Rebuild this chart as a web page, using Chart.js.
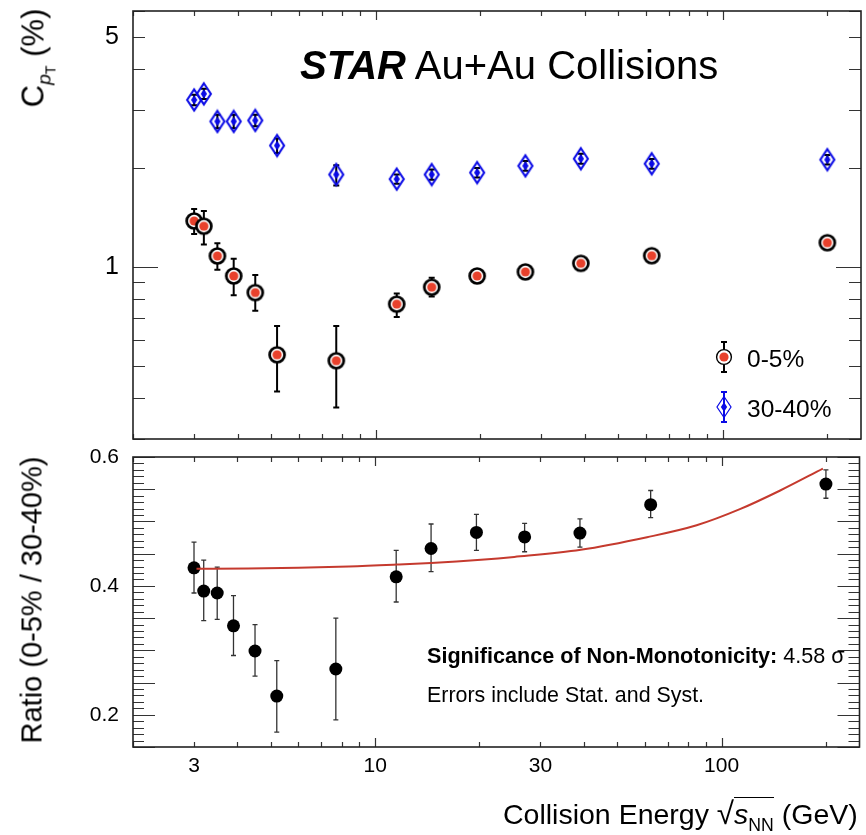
<!DOCTYPE html>
<html>
<head>
<meta charset="utf-8">
<title>STAR Au+Au Collisions</title>
<script src="https://cdn.jsdelivr.net/npm/chart.js@4.4.1/dist/chart.umd.min.js"></script>
<style>
  body { margin: 0; background: #fff; }
  #wrap { position: relative; width: 866px; height: 835px; overflow: hidden;
          font-family: 'Liberation Sans', Arial, Helvetica, sans-serif; color: #000; }
  canvas { position: absolute; left: 0; }
  .txt { position: absolute; white-space: nowrap; }
  .rot { position: absolute; white-space: nowrap; transform: translate(-50%, -50%) rotate(-90deg); }
  sub { line-height: 0; }
</style>
</head>
<body>
<div id="wrap">
  <canvas id="topChart" width="866" height="450" style="top:0"></canvas>
  <canvas id="ratioChart" width="866" height="390" style="top:445px"></canvas>

  <div class="txt" style="left:300px; top:45px; font-size:40px; line-height:40px;"><b><i>STAR</i></b> Au+Au Collisions</div>
  <div class="rot" style="left:34px; top:58px; font-size:31px; line-height:31px;">C<sub style="font-size:0.62em"><i>p</i><sub style="font-size:0.75em">T</sub></sub> (%)</div>
  <div class="rot" style="left:32px; top:600px; font-size:29px; line-height:29px;">Ratio (0-5% / 30-40%)</div>
  <div class="txt" style="left:747px; top:347px; font-size:24.5px; line-height:24px;">0-5%</div>
  <div class="txt" style="left:747px; top:397px; font-size:24.5px; line-height:24px;">30-40%</div>
  <div class="txt" style="left:427px; top:645px; font-size:21.6px; line-height:21px;"><b>Significance of Non-Monotonicity:</b> 4.58 &sigma;</div>
  <div class="txt" style="left:427px; top:685px; font-size:21.4px; line-height:21px;">Errors include Stat. and Syst.</div>
  <div class="txt" style="left:503px; top:800px; font-size:28.5px; line-height:28px;">Collision Energy <span style="font-size:1.1em">&radic;</span><span style="border-top:1.6px solid #000; font-style:italic;">s<sub style="font-style:normal; font-size:0.62em">NN</sub></span> (GeV)</div>
</div>

<script>
// collision energies (GeV)
const energies = [3.0, 3.2, 3.5, 3.9, 4.5, 5.2, 7.7, 11.5, 14.5, 19.6, 27, 39, 62.4, 200];

// C_pT (%) for 0-5% centrality, with lower/upper error ends
const cpt05   = [1.38, 1.33, 1.08, 0.939, 0.836, 0.541, 0.519, 0.771, 0.868, 0.939, 0.966, 1.026, 1.082, 1.185];
const cpt05Lo = [1.26, 1.17, 0.98, 0.82, 0.736, 0.418, 0.374, 0.705, 0.813, 0.91, 0.945, 1.005, 1.06, 1.16];
const cpt05Hi = [1.50, 1.48, 1.18, 1.06, 0.946, 0.662, 0.662, 0.83, 0.928, 0.97, 0.99, 1.05, 1.105, 1.21];

// C_pT (%) for 30-40% centrality
const cpt3040   = [3.22, 3.36, 2.77, 2.77, 2.79, 2.34, 1.91, 1.85, 1.91, 1.936, 2.03, 2.134, 2.06, 2.12];
const cpt3040Lo = [3.10, 3.24, 2.64, 2.64, 2.68, 2.22, 1.77, 1.79, 1.84, 1.87, 1.96, 2.06, 1.99, 2.05];
const cpt3040Hi = [3.34, 3.48, 2.90, 2.90, 2.90, 2.46, 2.04, 1.91, 1.98, 2.00, 2.10, 2.21, 2.13, 2.19];

// ratio 0-5% / 30-40%
const ratio   = [0.428, 0.392, 0.389, 0.338, 0.299, 0.229, 0.271, 0.414, 0.458, 0.483, 0.476, 0.482, 0.526, 0.558];
const ratioLo = [0.389, 0.346, 0.348, 0.292, 0.26, 0.173, 0.192, 0.375, 0.422, 0.455, 0.453, 0.46, 0.506, 0.536];
const ratioHi = [0.468, 0.44, 0.429, 0.385, 0.34, 0.284, 0.35, 0.455, 0.496, 0.511, 0.497, 0.504, 0.548, 0.58];

// baseline curve for the ratio
const baseE     = [3.05, 4.3, 8.4, 11.6, 14.5, 20.2, 25.2, 39.2, 60.9, 84.7, 112.9, 147.6, 196];
const baseRatio = [0.4265, 0.4268, 0.430, 0.433, 0.4355, 0.4406, 0.445, 0.456, 0.4755, 0.494, 0.519, 0.548, 0.582];

// labelled ticks
const xTickLabels = [3, 10, 30, 100];
const topYLabels = [1, 5];
const ratioYLabels = [0.2, 0.4, 0.6];

const FONT = "'Liberation Sans', Arial, Helvetica, sans-serif";
const RED = '#e8412c';
const BLUE = '#0a0ae6';

function toPoints(xs, ys) {
    return xs.map((x, i) => ({ x: x, y: ys[i] }));
}

// log ticks 2..9, 20..90, 200 etc. between min and max
function logTicks(min, max) {
    const out = [];
    for (let d = 0.1; d <= 1000; d *= 10) {
        for (let m = 1; m <= 9; m++) {
            const v = +(m * d).toPrecision(6);
            if (v >= min - 1e-9 && v <= max + 1e-9) out.push(v);
        }
    }
    return out;
}

// open circle with red dot
function makeCircle(ring, lw) {
    const c = document.createElement('canvas');
    c.width = 22; c.height = 22;
    const g = c.getContext('2d');
    g.beginPath(); g.arc(11, 11, ring, 0, Math.PI * 2);
    g.fillStyle = '#fff'; g.fill();
    g.lineWidth = lw; g.strokeStyle = '#000'; g.stroke();
    g.beginPath(); g.arc(11, 11, 4.6, 0, Math.PI * 2);
    g.fillStyle = RED; g.fill();
    return c;
}

// open tall diamond with a small filled one inside
function makeDiamond(lw) {
    const c = document.createElement('canvas');
    c.width = 18; c.height = 26;
    const g = c.getContext('2d');
    const cx = 9, cy = 13;
    g.beginPath();
    g.moveTo(cx, cy - 10.5); g.lineTo(cx + 7, cy); g.lineTo(cx, cy + 10.5); g.lineTo(cx - 7, cy); g.closePath();
    g.lineWidth = lw; g.strokeStyle = BLUE; g.stroke();
    g.beginPath();
    g.moveTo(cx, cy - 4.8); g.lineTo(cx + 3.2, cy); g.lineTo(cx, cy + 4.8); g.lineTo(cx - 3.2, cy); g.closePath();
    g.fillStyle = BLUE; g.fill();
    return c;
}

const circleMark = makeCircle(7.5, 2.7);
const circleLegend = makeCircle(7.4, 1.4);
const diamondMark = makeDiamond(2.1);
const diamondLegend = makeDiamond(1.2);

function errorBar(ctx, x, y1, y2, cap) {
    ctx.beginPath();
    ctx.moveTo(x, y1); ctx.lineTo(x, y2);
    ctx.moveTo(x - cap, y1); ctx.lineTo(x + cap, y1);
    ctx.moveTo(x - cap, y2); ctx.lineTo(x + cap, y2);
    ctx.stroke();
}

// vertical error bars under the markers
const errorBars = {
    id: 'errorBars',
    beforeDatasetsDraw(chart) {
        const { ctx, chartArea: a, scales } = chart;
        ctx.save();
        ctx.beginPath();
        ctx.rect(a.left, a.top, a.right - a.left, a.bottom - a.top);
        ctx.clip();
        chart.data.datasets.forEach(ds => {
            if (!ds.errLo) return;
            ctx.strokeStyle = ds.errColor;
            ctx.lineWidth = ds.errWidth;
            ds.data.forEach((p, i) => {
                const x = scales.x.getPixelForValue(p.x);
                errorBar(ctx, x, scales.y.getPixelForValue(ds.errLo[i]), scales.y.getPixelForValue(ds.errHi[i]), ds.errCap);
            });
        });
        ctx.restore();
    }
};

// frame with inward ticks on all four sides
const frameTicks = {
    id: 'frameTicks',
    afterDraw(chart, args, opts) {
        const { ctx, chartArea: a, scales } = chart;
        ctx.save();
        ctx.strokeStyle = '#333';
        ctx.lineWidth = 1.2;
        ctx.beginPath();
        scales.x.ticks.forEach(t => {
            const px = Math.round(scales.x.getPixelForValue(t.value)) + 0.5;
            const len = (t.value === 10 || t.value === 100) ? 9 : 5;
            ctx.moveTo(px, a.top); ctx.lineTo(px, a.top + len);
            ctx.moveTo(px, a.bottom); ctx.lineTo(px, a.bottom - len);
        });
        scales.y.ticks.forEach(t => {
            const py = Math.round(scales.y.getPixelForValue(t.value)) + 0.5;
            const len = opts.isLong(t.value) ? opts.longTick : opts.shortTick;
            ctx.moveTo(a.left, py); ctx.lineTo(a.left + len, py);
            ctx.moveTo(a.right, py); ctx.lineTo(a.right - len, py);
        });
        ctx.stroke();
        ctx.lineWidth = 1.6;
        ctx.strokeStyle = '#222';
        ctx.strokeRect(a.left, a.top, a.right - a.left, a.bottom - a.top);
        ctx.restore();
    }
};

// legend markers inside the upper panel
const legendMarks = {
    id: 'legendMarks',
    afterDraw(chart) {
        const ctx = chart.ctx;
        ctx.save();
        ctx.lineWidth = 2;
        ctx.strokeStyle = '#000';
        errorBar(ctx, 724, 342, 372, 3);
        ctx.drawImage(circleLegend, 724 - 11, 357 - 11);
        ctx.strokeStyle = BLUE;
        errorBar(ctx, 724, 392, 422, 3);
        ctx.drawImage(diamondLegend, 724 - 9, 407 - 13);
        ctx.restore();
    }
};

// keep the plot frame exactly where the layout padding puts it
function noEdgePadding(s) {
    s.paddingTop = 0;
    s.paddingBottom = 0;
    s.paddingLeft = 0;
    s.paddingRight = 0;
}

const xScale = (showLabels, height) => ({
    type: 'logarithmic',
    position: 'bottom',
    min: 2,
    max: 250,
    grid: { display: false, drawTicks: false },
    border: { display: false },
    afterBuildTicks: s => { s.ticks = logTicks(2, 250).map(v => ({ value: v })); },
    afterFit: s => { s.height = height; noEdgePadding(s); },
    ticks: {
        display: showLabels,
        autoSkip: false,
        maxRotation: 0,
        padding: 7,
        color: '#000',
        font: { family: FONT, size: 21 },
        callback: v => xTickLabels.includes(v) ? String(v) : ''
    }
});

new Chart(document.getElementById('topChart'), {
    type: 'scatter',
    data: {
        datasets: [
            {
                label: '30-40%',
                data: toPoints(energies, cpt3040),
                pointStyle: diamondMark,
                errLo: cpt3040Lo, errHi: cpt3040Hi,
                errColor: '#000', errWidth: 2, errCap: 3
            },
            {
                label: '0-5%',
                data: toPoints(energies, cpt05),
                pointStyle: circleMark,
                errLo: cpt05Lo, errHi: cpt05Hi,
                errColor: '#000', errWidth: 2, errCap: 3
            }
        ]
    },
    options: {
        responsive: false,
        animation: false,
        layout: { padding: { top: 11, right: 3, left: 0, bottom: 0 } },
        plugins: {
            legend: { display: false },
            tooltip: { enabled: false },
            frameTicks: { longTick: 25, shortTick: 12, isLong: v => v === 1 }
        },
        scales: {
            x: xScale(false, 11),
            y: {
                type: 'logarithmic',
                min: 0.3,
                max: 6,
                grid: { display: false, drawTicks: false },
                border: { display: false },
                afterBuildTicks: s => { s.ticks = logTicks(0.3, 6).map(v => ({ value: v })); },
                afterFit: s => { s.width = 133; noEdgePadding(s); },
                ticks: {
                    autoSkip: false,
                    padding: 14,
                    color: '#000',
                    font: { family: FONT, size: 25 },
                    callback: v => topYLabels.includes(v) ? String(v) : ''
                }
            }
        }
    },
    plugins: [errorBars, frameTicks, legendMarks]
});

// minor ticks every 0.01 on the ratio axis
const ratioTicks = [];
for (let k = 15; k <= 60; k++) ratioTicks.push(k / 100);

new Chart(document.getElementById('ratioChart'), {
    type: 'scatter',
    data: {
        datasets: [
            {
                label: 'baseline',
                data: toPoints(baseE, baseRatio),
                showLine: true,
                pointRadius: 0,
                borderColor: '#c53a2e',
                borderWidth: 2,
                cubicInterpolationMode: 'monotone'
            },
            {
                label: 'ratio',
                data: toPoints(energies, ratio),
                pointStyle: 'circle',
                pointRadius: 6.5,
                backgroundColor: '#000',
                borderWidth: 0,
                errLo: ratioLo, errHi: ratioHi,
                errColor: '#333', errWidth: 1.3, errCap: 2.5
            }
        ]
    },
    options: {
        responsive: false,
        animation: false,
        layout: { padding: { top: 12, right: 3, left: 0, bottom: 0 } },
        plugins: {
            legend: { display: false },
            tooltip: { enabled: false },
            frameTicks: {
                longTick: 22, shortTick: 11,
                isLong: v => Math.abs(v * 20 - Math.round(v * 20)) < 1e-6
            }
        },
        scales: {
            x: xScale(true, 88),
            y: {
                type: 'linear',
                min: 0.15,
                max: 0.6,
                grid: { display: false, drawTicks: false },
                border: { display: false },
                afterBuildTicks: s => { s.ticks = ratioTicks.map(v => ({ value: v })); },
                afterFit: s => { s.width = 133; noEdgePadding(s); },
                ticks: {
                    autoSkip: false,
                    padding: 14,
                    color: '#000',
                    font: { family: FONT, size: 21 },
                    callback: v => ratioYLabels.some(l => Math.abs(l - v) < 1e-6) ? v.toFixed(1) : ''
                }
            }
        }
    },
    plugins: [errorBars, frameTicks]
});
</script>
</body>
</html>
